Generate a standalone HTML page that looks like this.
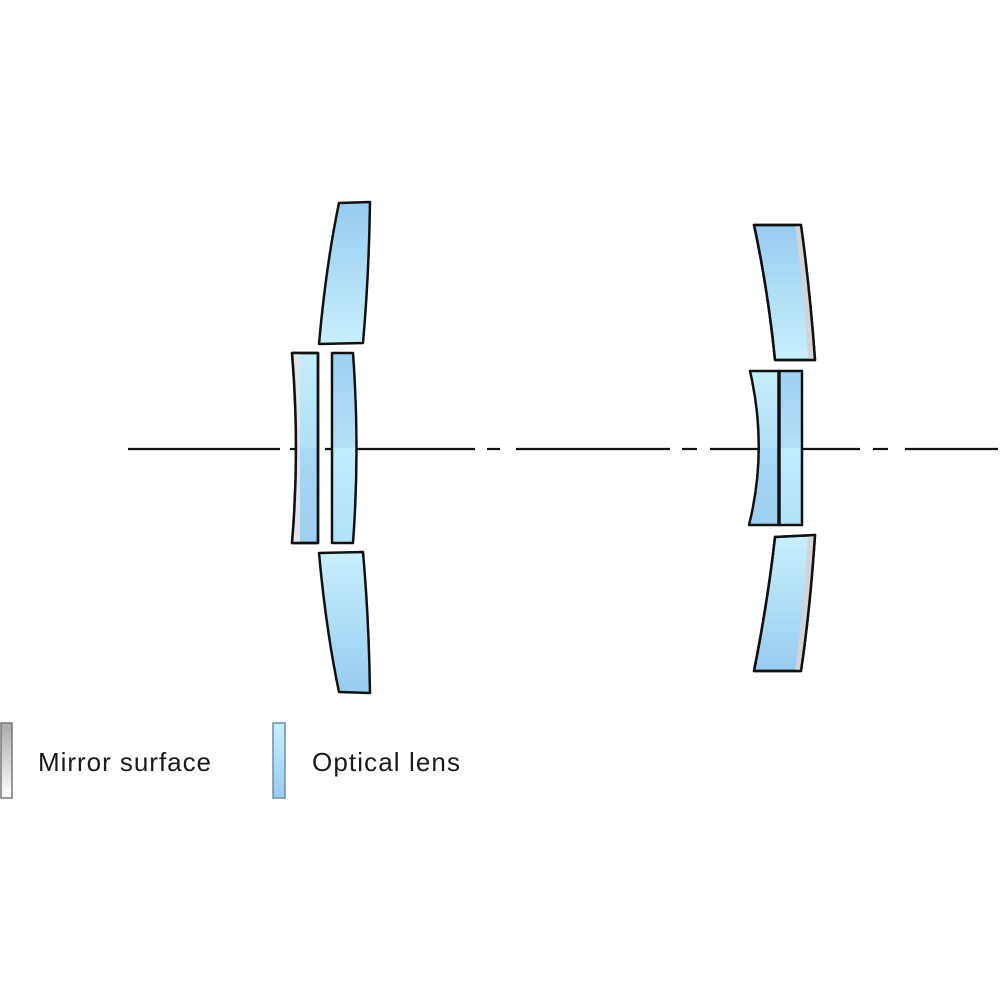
<!DOCTYPE html>
<html><head><style>body{margin:0;background:#fff}svg{display:block}</style></head>
<body>
<svg width="1000" height="1000" viewBox="0 0 1000 1000" xmlns="http://www.w3.org/2000/svg">
<defs>
<linearGradient id="gt" x1="0" y1="0" x2="0" y2="1"><stop offset="0" stop-color="#98cbf1"/><stop offset="1" stop-color="#c6f0fb"/></linearGradient>
<linearGradient id="gb" x1="0" y1="1" x2="0" y2="0"><stop offset="0" stop-color="#98cbf1"/><stop offset="1" stop-color="#c6f0fb"/></linearGradient>
<linearGradient id="gm" x1="0" y1="0" x2="0" y2="1"><stop offset="0" stop-color="#9fcff2"/><stop offset="0.5" stop-color="#b4e0f7"/><stop offset="0.5" stop-color="#bfeefb"/><stop offset="1" stop-color="#b2e2f8"/></linearGradient>
<linearGradient id="gm2" x1="0" y1="0" x2="0" y2="1"><stop offset="0" stop-color="#c4eefb"/><stop offset="0.5" stop-color="#b0e0f8"/><stop offset="0.5" stop-color="#a7d8f5"/><stop offset="1" stop-color="#9dd0f2"/></linearGradient>
<linearGradient id="gray" x1="0" y1="0" x2="0" y2="1"><stop offset="0" stop-color="#aaa"/><stop offset="1" stop-color="#fff"/></linearGradient>
<linearGradient id="leg" x1="0" y1="0" x2="0" y2="1"><stop offset="0" stop-color="#c6f0fb"/><stop offset="1" stop-color="#98cbf1"/></linearGradient>
</defs>
<g stroke="#111" stroke-width="2.2" fill="none">
<line x1="128" y1="449" x2="280" y2="449"/>
<line x1="290" y1="449" x2="300" y2="449"/>
<line x1="304" y1="449" x2="311" y2="449"/>
<line x1="325" y1="449" x2="475" y2="449"/>
<line x1="487" y1="449" x2="500" y2="449"/>
<line x1="516" y1="449" x2="670" y2="449"/>
<line x1="682" y1="449" x2="697" y2="449"/>
<line x1="710" y1="449" x2="860" y2="449"/>
<line x1="873" y1="449" x2="888" y2="449"/>
<line x1="905" y1="449" x2="998" y2="449"/>
</g>
<g stroke="#111" stroke-width="2.5" stroke-linejoin="round">
<path d="M339 203 L370 202 Q369 275 363 343 L319 344 Q326 265 339 203 Z" fill="url(#gt)"/>
<path d="M319 553 L363 552 Q369 620 370 693 L339 692 Q326 630 319 553 Z" fill="url(#gb)"/>
<path d="M292 353 L318 353 L318 543 L292 543 Q300 449 292 353 Z" fill="url(#gm2)"/>
<path d="M293 354 L300 354 L300 542 L293 542 Q300 449 293 354 Z" fill="#e2e6ea" stroke="none"/>
<path d="M292 353 L318 353 L318 543 L292 543 Q300 449 292 353 Z" fill="none"/>
<path d="M332 353 L353 353 Q360 449 353 543 L332 543 Z" fill="url(#gm)"/>
<path d="M754 225 L801 225 Q810 290 815 360 L775 360 Q768 290 754 225 Z" fill="url(#gt)"/>
<path d="M795 226 L801 226 Q810 290 814 359 L808 359 Q804 290 795 226 Z" fill="#d2d4d6" stroke="none"/>
<path d="M754 225 L801 225 Q810 290 815 360 L775 360 Q768 290 754 225 Z" fill="none"/>
<path d="M775 537 L815 535 Q810 610 801 671 L754 671 Q768 600 775 537 Z" fill="url(#gb)"/>
<path d="M808 536 L814 536 Q810 610 801 670 L795 670 Q804 605 808 536 Z" fill="#d2d4d6" stroke="none"/>
<path d="M775 537 L815 535 Q810 610 801 671 L754 671 Q768 600 775 537 Z" fill="none"/>
<path d="M750 371 L779 371 L779 525 L749 525 Q768 449 750 371 Z" fill="url(#gm2)"/>
<path d="M779 371 L802 371 L802 525 L779 525 Z" fill="url(#gm)"/>
<line x1="779" y1="371" x2="779" y2="525" stroke-width="3.5"/>
</g>
<rect x="1" y="723" width="11" height="75" fill="url(#gray)" stroke="#777" stroke-width="1.5"/>
<rect x="273" y="723" width="12" height="75" fill="url(#leg)" stroke="#6a8fa8" stroke-width="1.5"/>
<text x="38" y="771" font-family="Liberation Sans, sans-serif" font-size="26" fill="#1a1a1a" textLength="173">Mirror surface</text>
<text x="312" y="771" font-family="Liberation Sans, sans-serif" font-size="26" fill="#1a1a1a" textLength="148">Optical lens</text>
</svg>
</body></html>
